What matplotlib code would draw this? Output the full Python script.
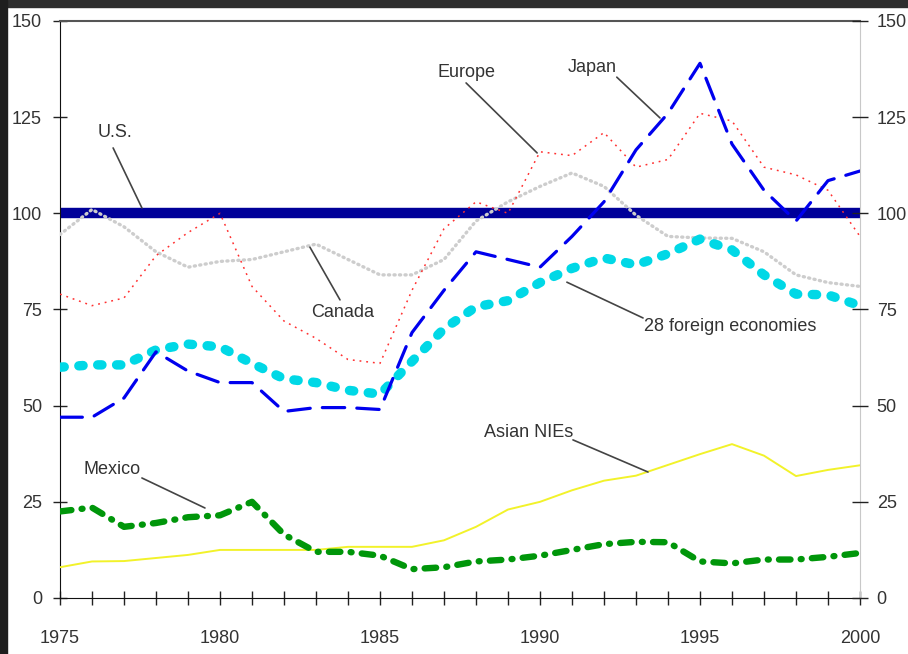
import matplotlib
matplotlib.use("Agg")
import matplotlib.pyplot as plt
from matplotlib.patches import Rectangle

years = list(range(1975, 2001))
us = [100, 100, 100, 100, 100, 100, 100, 100, 100, 100, 100, 100, 100,
      100, 100, 100, 100, 100, 100, 100, 100, 100, 100, 100, 100, 100]
japan = [47, 47, 52, 64, 59, 56, 56, 48.5, 49.5, 49.5, 49, 69, 80, 90, 88, 86,
         94, 103, 116.5, 126, 139, 118, 106, 98, 108.5, 111]
europe = [79, 76, 78, 89, 95, 100, 81, 72, 67.5, 62, 61, 80, 96, 103, 100, 116,
          115, 121, 112, 114, 126, 124, 112, 110, 106, 94]
canada = [94.5, 101, 96.5, 90, 86, 87.5, 88, 90, 92, 88, 84, 84, 88, 98, 103,
          107, 110.5, 107, 99.5, 94, 93.6, 93.5, 90, 84, 82, 81]
foreign28 = [60, 60.6, 60.6, 64.5, 66, 65.3, 61, 57, 56, 54, 53, 61.5, 70,
             75.7, 77.3, 82, 85.7, 88.4, 86.6, 89.5, 93.3, 90.5, 84, 79, 78.8, 76]
asian_nies = [8, 9.5, 9.6, 10.4, 11.2, 12.5, 12.5, 12.5, 12.5, 13.3, 13.3, 13.3,
              15, 18.5, 23, 25, 28, 30.5, 31.8, 34.6, 37.4, 40, 37, 31.7, 33.3, 34.5]
mexico = [22.5, 23.5, 18.5, 19.5, 21, 21.5, 25, 16.5, 12, 12, 11, 7.5, 8, 9.5,
          10, 11, 12.5, 14, 14.6, 14.5, 9.5, 9, 10, 10, 10.7, 11.7]

x_ticks_major = [1975, 1980, 1985, 1990, 1995, 2000]
y_ticks = [0, 25, 50, 75, 100, 125, 150]

FONT = ['Liberation Sans', 'DejaVu Sans']
plt.rcParams['font.family'] = FONT

W, H = 908, 654
fig = plt.figure(figsize=(W / 100, H / 100), dpi=100)
fig.patch.set_facecolor('white')
ax = fig.add_axes([60 / W, 1 - 598 / H, 800 / W, 577 / H])

# series
ax.plot(years, us, color='#000099', lw=7.5, solid_capstyle='butt', zorder=2)
ax.plot(years, canada, color='#cdcdcd', lw=2.4, linestyle=(0, (0.35, 1.3)),
        dash_capstyle='round', zorder=3)
ax.plot(years, europe, color='#ff3030', lw=1.1, linestyle=(0, (1.2, 3.2)),
        zorder=4)
ax.plot(years, asian_nies, color='#f2f22a', lw=1.4, zorder=3)
ax.plot(years, foreign28, color='#00d8e6', lw=6.8, linestyle=(0, (0.45, 1.55)),
        dash_capstyle='round', zorder=5)
ax.plot(years, japan, color='#0000ee', lw=2.3, linestyle=(0, (7.0, 3.8)),
        dash_capstyle='round', zorder=6)
ax.plot(years, mexico, color='#00960a', lw=4.6,
        linestyle=(0, (1.8, 1.6, 0.15, 1.6)), dash_capstyle='round', zorder=6)

ax.set_xlim(1975, 2000)
ax.set_ylim(0, 150)
ax.set_xticks(years)
ax.set_xticklabels([str(y) if y in x_ticks_major else '' for y in years])
ax.set_yticks(y_ticks)
ax.tick_params(axis='x', direction='inout', length=10, width=1, pad=18,
               labelsize=13, labelcolor='#333333', color='#222222')
ax.tick_params(axis='y', direction='inout', length=10, width=1, pad=8,
               labelsize=13, labelcolor='#333333', color='#222222')
ax.spines['top'].set_color('#555555')
ax.spines['top'].set_linewidth(1.5)
ax.spines['left'].set_color('#111111')
ax.spines['bottom'].set_color('#111111')
ax.spines['right'].set_color('#c8c8c8')

ax2 = ax.twinx()
ax2.set_ylim(0, 150)
ax2.set_yticks(y_ticks)
ax2.tick_params(axis='y', direction='inout', length=12, width=1, pad=6,
                labelsize=13, labelcolor='#333333', color='#222222')
for s in ax2.spines.values():
    s.set_visible(False)

# annotations: (label, text pos, line start, line end)
notes = [
    ("U.S.", (1976.72, 121.1), (1976.66, 117.0), (1977.56, 101.4)),
    ("Europe", (1987.69, 136.7), (1987.69, 133.9), (1989.91, 115.7)),
    ("Japan", (1991.63, 137.8), (1992.4, 135.4), (1993.75, 124.8)),
    ("Canada", (1983.84, 74.35), (1983.75, 77.5), (1982.81, 91.2)),
    ("28 foreign economies", (1995.94, 70.7), (1993.22, 72.8), (1990.84, 82.1)),
    ("Asian NIEs", (1989.66, 42.9), (1991.03, 41.1), (1993.375, 32.75)),
    ("Mexico", (1976.63, 33.5), (1977.56, 31.2), (1979.53, 23.4)),
]
for label, tp, p0, p1 in notes:
    ax.text(tp[0], tp[1], label, ha='center', va='center', fontsize=13,
            color='#333333', zorder=10)
    ax.annotate('', xy=p1, xytext=p0,
                arrowprops=dict(arrowstyle='-', color='#444444', lw=1.2,
                                shrinkA=0, shrinkB=0), zorder=10)

# dark frame strips
fig.add_artist(Rectangle((0, 1 - 7 / H), 1, 7 / H, transform=fig.transFigure,
                         color='#2e2e2e', zorder=0))
fig.add_artist(Rectangle((0, 0), 7 / W, 1, transform=fig.transFigure,
                         color='#1e1e1e', zorder=0))

fig.savefig('out.png', dpi=100)
